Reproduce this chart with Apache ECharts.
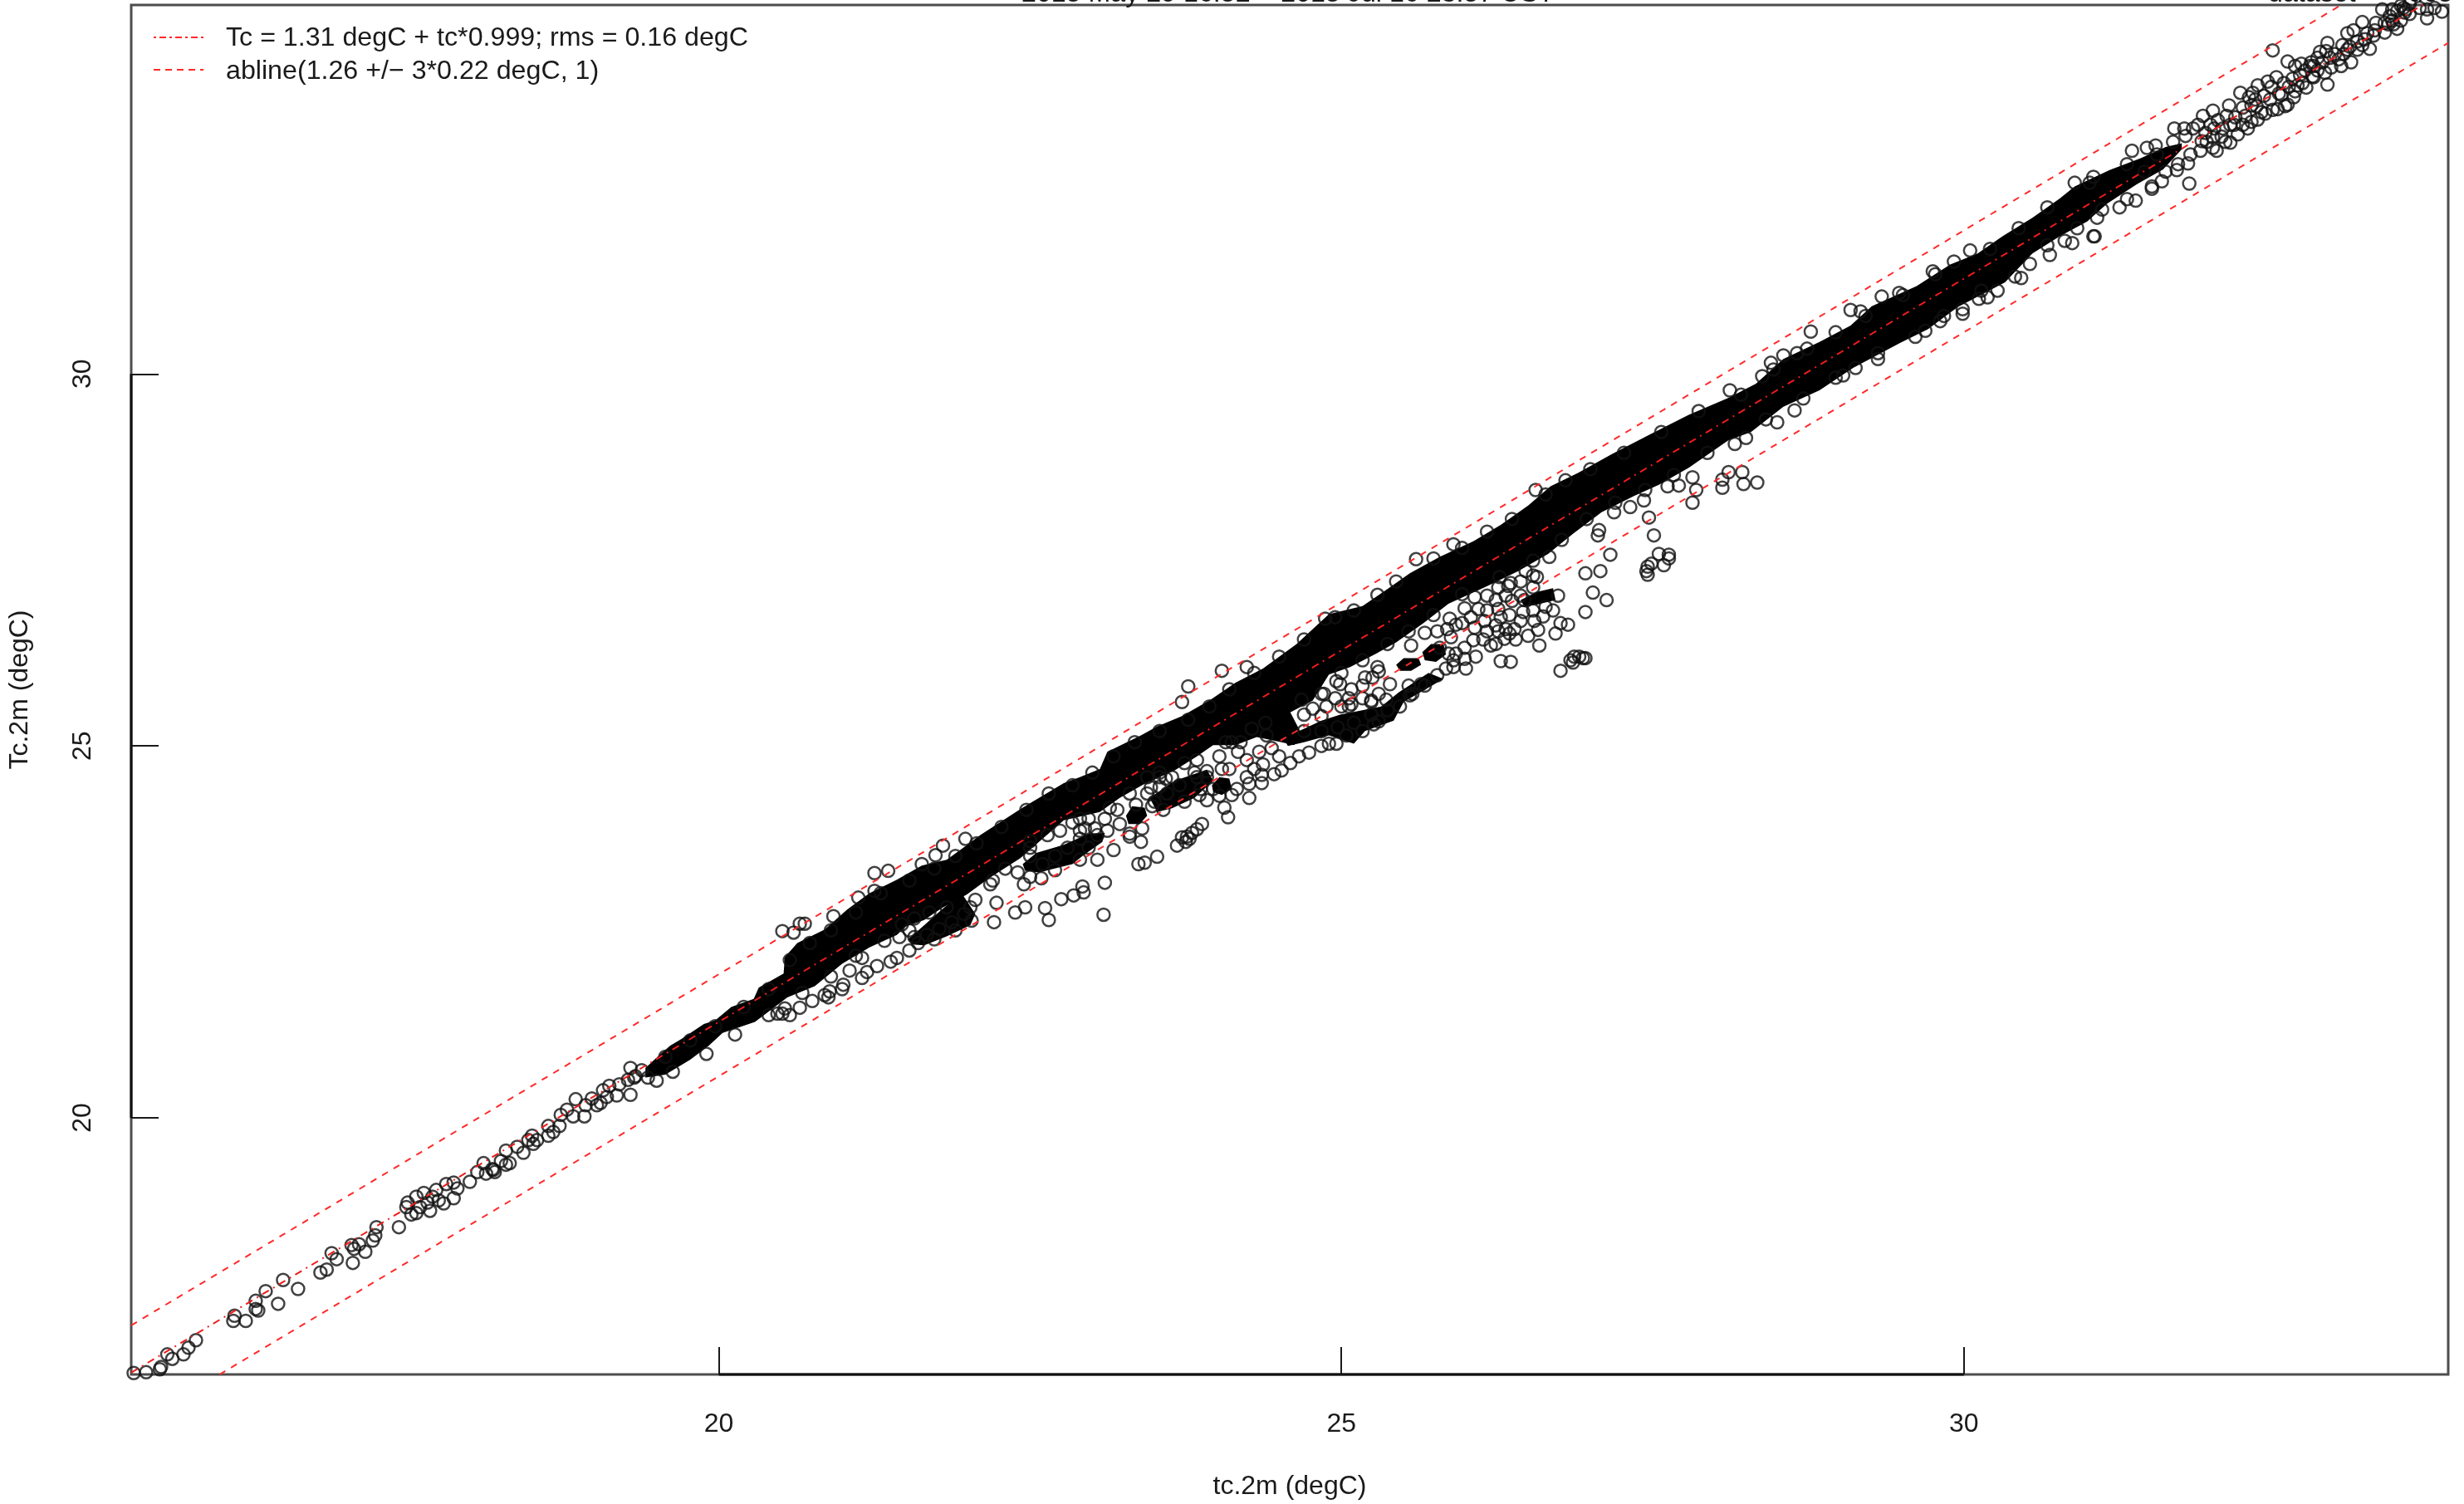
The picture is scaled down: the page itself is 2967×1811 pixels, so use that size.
<!DOCTYPE html>
<html><head><meta charset="utf-8">
<style>html,body{margin:0;padding:0;background:#fff}#c{width:2967px;height:1811px}</style>
<script src="https://cdn.jsdelivr.net/npm/echarts@6/dist/echarts.min.js"></script>
</head><body><div id="c"></div>
<script>
const xRange=[15.28,33.89], yRange=[16.55,34.96];
const xTicks=[20,25,30], yTicks=[20,25,30];
const xName='tc.2m (degC)', yName='Tc.2m (degC)';
const legendLabels=['Tc = 1.31 degC + tc*0.999; rms = 0.16 degC','abline(1.26 +/\u2212 3*0.22 degC, 1)'];
const titleCentre='2015 May 29 16:52 \u2212 2015 Jul 16 23:57 UST', titleRight='dataset', titleRight2='d05';
// regression: Tc = a + b*tc ; ablines: a +/- 3*sd with slope 1 (upper/lower as seen on the plot)
const fitA=1.31, fitB=0.999, ablineUpperA=1.93, ablineLowerA=0.56;

// saturated (fully overplotted) body of the cloud, outline
const coreUpper=[[19.41,20.67],[19.52,20.84],[19.61,20.97],[19.70,21.06],[19.88,21.26],[19.97,21.31],[20.10,21.49],[20.28,21.60],[20.32,21.75],[20.52,21.94],[20.53,22.16],[20.63,22.35],[20.85,22.53],[21.03,22.80],[21.21,23.02],[21.43,23.20],[21.63,23.39],[21.83,23.47],[21.97,23.64],[22.10,23.80],[22.44,24.17],[22.77,24.50],[22.90,24.58],[23.06,24.69],[23.12,24.92],[23.39,25.14],[23.52,25.26],[23.72,25.40],[23.95,25.62],[24.15,25.85],[24.37,26.04],[24.64,26.37],[24.90,26.77],[25.17,26.88],[25.37,27.11],[25.55,27.32],[25.79,27.54],[26.06,27.75],[26.28,27.97],[26.50,28.23],[26.68,28.49],[26.90,28.67],[27.17,28.92],[27.47,29.18],[27.79,29.45],[28.11,29.68],[28.33,29.87],[28.55,30.20],[28.84,30.43],[29.09,30.65],[29.26,30.91],[29.62,31.18],[29.89,31.47],[30.11,31.62],[30.31,31.85],[30.55,32.10],[30.77,32.36],[30.89,32.52],[31.17,32.74],[31.42,32.90],[31.62,33.05],[31.75,33.10]];
const coreLower=[[19.41,20.54],[19.57,20.58],[19.77,20.78],[19.92,20.97],[20.03,21.14],[20.29,21.29],[20.55,21.62],[20.77,21.77],[20.99,22.07],[21.21,22.29],[21.43,22.46],[21.50,22.57],[21.65,22.66],[21.79,22.82],[21.99,23.00],[22.17,23.22],[22.42,23.49],[22.77,24.00],[23.06,24.11],[23.22,24.30],[23.42,24.49],[23.66,24.67],[23.84,24.86],[23.97,25.01],[24.15,25.01],[24.32,25.12],[24.52,25.05],[24.62,25.01],[24.68,25.16],[24.59,25.45],[24.77,25.61],[24.90,25.96],[25.07,26.06],[25.28,26.24],[25.44,26.39],[25.66,26.65],[25.86,26.91],[26.15,27.13],[26.42,27.35],[26.66,27.58],[26.86,27.85],[27.09,28.14],[27.35,28.36],[27.55,28.51],[27.79,28.74],[28.11,29.11],[28.29,29.22],[28.55,29.56],[28.84,29.78],[29.11,30.08],[29.49,30.42],[29.71,30.60],[29.95,30.90],[30.33,31.23],[30.55,31.62],[30.77,31.85],[30.99,32.05],[31.15,32.29],[31.39,32.55],[31.60,32.75],[31.75,33.02]];
// smaller saturated lobes below the body
const lobeA=[[21.52,22.40],[21.65,22.59],[21.79,22.80],[21.95,23.02],[22.06,22.74],[22.02,22.59],[21.83,22.44],[21.65,22.32],[21.55,22.33]];
const lobeB=[[22.44,23.41],[22.55,23.56],[22.77,23.67],[22.97,23.82],[23.10,23.83],[23.08,23.71],[22.92,23.52],[22.84,23.41],[22.57,23.30],[22.46,23.32]];
const lobeC=[[23.27,24.06],[23.32,24.19],[23.42,24.17],[23.44,24.06],[23.38,23.95],[23.29,23.95]];
const lobeD=[[23.46,24.30],[23.66,24.53],[23.92,24.68],[23.97,24.53],[23.82,24.30],[23.64,24.16],[23.52,24.11]];
const lobeE=[[23.96,24.47],[24.02,24.58],[24.10,24.56],[24.12,24.42],[24.04,24.34],[23.97,24.38]];
const lobeF=[[24.54,25.09],[24.66,25.20],[24.84,25.34],[24.99,25.42],[25.32,25.53],[25.46,25.72],[25.70,25.98],[25.82,25.90],[25.50,25.59],[25.42,25.34],[25.19,25.20],[25.10,25.03],[24.90,25.14],[24.70,25.05],[24.57,25.00]];
const lobeG=[[25.44,26.09],[25.50,26.18],[25.62,26.18],[25.64,26.09],[25.56,26.01],[25.47,26.01]];
const lobeH=[[25.65,26.26],[25.72,26.37],[25.82,26.37],[25.84,26.23],[25.76,26.13],[25.67,26.15]];
const lobeI=[[26.44,26.96],[26.57,27.07],[26.70,27.12],[26.72,26.96],[26.57,26.90],[26.47,26.87]];

// individually visible circles
const coldEnd=[[15.30,16.57],[15.40,16.58],[15.51,16.62],[15.52,16.65],[15.57,16.82],[15.61,16.76],[15.70,16.82],[15.74,16.91],[15.80,17.01],[16.10,17.27],[16.11,17.34],[16.20,17.27],[16.28,17.43],[16.28,17.54],[16.30,17.41],[16.36,17.67],[16.46,17.50],[16.50,17.82],[16.62,17.70],[16.80,17.92],[16.85,17.96],[16.89,18.18],[16.93,18.10],[17.06,18.05],[17.05,18.29],[17.07,18.24],[17.11,18.30],[17.16,18.20],[17.22,18.35],[17.24,18.42],[17.25,18.53],[17.43,18.53],[17.49,18.80],[17.53,18.70],[17.57,18.94],[17.60,18.80],[17.66,18.86],[17.70,18.94],[17.68,18.75],[17.75,18.89],[17.79,18.85],[17.81,19.11],[17.87,18.92],[17.87,19.13],[18.00,19.14],[18.06,19.27],[18.19,19.30],[18.29,19.37],[17.50,18.86],[17.63,18.99],[17.73,19.03],[17.57,18.72],[17.90,19.05],[18.13,19.25],[18.11,19.39],[18.18,19.31],[18.20,19.27],[18.25,19.42],[18.29,19.56],[18.32,19.39],[18.38,19.61],[18.43,19.53],[18.50,19.76],[18.51,19.65],[18.47,19.70],[18.54,19.70],[18.63,19.89],[18.63,19.76],[18.67,19.81],[18.72,19.89],[18.73,20.04],[18.78,20.11],[18.83,20.02],[18.85,20.25],[18.92,20.02],[18.93,20.17],[18.98,20.26],[19.02,20.17],[19.05,20.20],[19.07,20.37],[19.12,20.43],[19.10,20.28],[19.18,20.30],[19.20,20.45],[19.27,20.51],[19.33,20.56],[19.29,20.31],[19.29,20.67],[19.32,20.54],[19.43,20.54],[19.38,20.64]];
const midUpper=[[20.51,22.51],[20.60,22.49],[20.65,22.61],[20.69,22.61],[20.92,22.71],[21.25,23.29],[21.36,23.32],[21.74,23.53],[21.80,23.66],[21.98,23.75],[21.25,23.05],[21.12,22.96],[21.63,23.41],[23.72,25.59],[23.77,25.80],[24.04,26.01],[24.24,26.06],[24.95,26.73],[25.29,27.03],[25.60,27.51],[25.90,27.71],[26.56,28.44]];
const midLower=[[20.47,21.40],[20.51,21.40],[20.57,21.38],[20.53,21.47],[20.65,21.48],[20.75,21.57],[20.85,21.65],[20.88,21.62],[20.89,21.70],[20.99,21.73],[21.00,21.79],[21.05,21.98],[21.15,21.88],[21.19,21.96],[21.27,22.04],[21.38,22.10],[21.43,22.15],[21.53,22.25],[21.15,22.15],[21.45,22.43],[22.06,22.93],[22.18,23.14],[22.23,22.89],[22.21,22.63],[22.38,22.76],[22.46,22.83],[22.62,22.82],[22.65,22.66],[22.45,23.14],[22.59,23.22],[22.70,23.33],[22.75,22.94],[22.85,22.99],[22.92,23.11],[22.93,23.03],[23.10,23.16],[23.09,22.73],[23.04,23.47],[23.17,23.60],[23.37,23.41],[23.42,23.43],[23.52,23.51],[23.39,23.71],[23.30,23.78]];
const meshA=[[24.02,24.86],[23.84,24.81],[23.82,24.64],[23.92,24.66],[23.92,24.58],[23.02,23.89],[22.94,23.89],[23.12,23.86],[23.22,23.95],[23.40,23.89],[23.30,23.82],[23.68,23.66],[23.72,23.77],[23.76,23.78],[23.80,23.83],[23.84,23.88],[23.88,23.95],[23.75,23.71],[23.78,23.75],[24.09,24.04],[24.06,24.17],[24.26,24.30],[24.12,24.34],[24.02,24.33],[23.92,24.27],[23.86,24.34],[23.97,24.42],[24.16,24.42],[24.26,24.49],[24.36,24.50],[24.36,24.61],[24.46,24.62],[24.52,24.67],[24.59,24.77],[24.66,24.86],[24.74,24.91],[24.84,25.00],[24.96,25.03],[23.35,24.21],[23.48,24.19],[23.44,24.36],[23.54,24.45],[23.59,24.56],[24.12,25.05],[24.19,25.05],[24.28,25.23],[24.39,25.31],[25.24,25.61],[25.36,25.62],[25.08,25.56],[25.39,25.83],[25.25,25.92],[25.30,26.00],[24.99,25.83],[25.08,25.76],[25.17,25.81],[24.88,25.53],[24.77,25.50],[25.26,25.29],[24.96,25.87],[24.68,25.62],[24.86,25.70],[25.06,25.64],[25.24,25.59],[25.29,26.06],[25.06,25.53],[24.95,25.64],[25.64,25.83],[25.55,25.68],[25.19,25.92]];
const meshB=[[27.43,28.30],[27.32,28.21],[27.19,28.14],[27.47,28.07],[27.51,27.83],[27.07,27.90],[27.06,27.83],[27.16,27.57],[26.67,27.54],[27.55,27.58],[27.63,27.57],[27.59,27.43],[27.63,27.52],[27.46,27.41],[27.46,27.30],[27.49,27.45],[27.45,27.35],[26.96,27.32],[27.08,27.35],[27.02,27.06],[27.13,26.96],[26.96,26.80],[26.74,27.02],[26.54,27.29],[26.54,27.13],[26.48,27.35],[26.36,27.19],[26.70,26.82],[26.76,26.65],[26.82,26.63],[26.58,26.56],[26.72,26.51],[26.59,26.35],[26.55,26.68],[26.62,26.74],[26.31,26.44],[26.20,26.35],[26.06,26.42],[26.08,26.20],[26.28,26.14],[26.36,26.13],[26.76,26.01],[26.84,26.15],[26.87,26.20],[26.94,26.18],[26.96,26.18],[26.91,26.20],[26.86,26.12],[26.24,26.62],[26.32,26.57],[26.39,26.57],[26.28,26.73],[26.35,26.76],[26.44,26.68],[26.46,26.80],[26.26,26.84],[26.37,26.95],[26.44,27.02],[26.32,27.02],[26.26,27.13],[26.17,27.02],[25.99,26.85],[26.10,26.84],[26.04,26.73],[26.15,26.68],[26.26,26.54],[26.35,26.51],[25.85,26.57],[25.92,26.63],[25.67,26.52],[25.56,26.35],[25.88,26.46],[25.99,26.32],[25.99,26.17],[25.90,26.06],[25.86,26.24],[25.79,26.32],[25.92,26.24],[27.71,28.50],[27.62,28.49],[27.82,28.61],[27.85,28.44],[27.82,28.27],[28.06,28.47],[28.06,28.58],[28.11,28.68],[28.22,28.68],[28.23,28.52],[28.34,28.54]];
const meshC=[[21.57,22.43],[21.67,22.46],[21.77,22.54],[21.87,22.63],[21.97,22.74],[22.02,22.83],[21.60,22.35],[21.73,22.40],[21.90,22.52],[22.03,22.65],[21.47,22.60],[21.57,22.68],[21.69,22.76],[21.83,22.83],[21.53,22.52],[22.50,23.52],[22.60,23.41],[22.70,23.52],[22.80,23.63],[22.90,23.75],[23.04,23.80],[22.97,23.63],[22.40,23.30],[22.50,23.24],[22.90,23.47],[22.50,23.72],[22.84,23.97],[22.97,24.02],[23.10,24.02],[22.74,23.86],[23.20,24.14],[22.90,23.86],[23.50,24.25],[23.60,24.36],[23.70,24.47],[23.84,24.58],[23.57,24.14],[23.74,24.25],[23.87,24.42],[23.54,24.64],[23.64,24.58],[23.44,24.58],[23.47,24.44]];
const meshD=[[24.24,24.81],[24.34,24.92],[24.44,24.97],[24.37,24.75],[24.24,24.58],[24.10,24.69],[24.50,24.86],[24.04,24.69],[24.17,24.92],[24.30,24.69],[24.70,25.20],[24.84,25.20],[24.97,25.25],[25.10,25.31],[25.24,25.42],[25.37,25.48],[25.04,25.14],[25.17,25.20],[24.90,25.03],[25.30,25.33],[25.47,25.53],[25.57,25.70],[25.67,25.81],[25.77,25.95],[25.54,25.81],[25.30,25.70],[25.17,25.64],[25.00,25.53],[24.84,25.40],[25.84,26.04],[25.90,26.15],[26.00,26.04],[25.77,26.54],[25.87,26.71],[25.97,26.65],[26.07,26.59],[26.17,26.54],[26.17,26.82],[26.07,27.00],[26.24,26.96],[26.34,27.15],[26.44,27.21],[26.57,27.27],[26.24,26.37],[26.14,26.43],[26.40,26.43],[26.50,26.48],[26.47,26.96],[26.54,26.82],[26.64,26.87]];
const warmSide=[[28.77,30.57],[29.09,30.86],[29.17,30.84],[29.34,31.04],[29.48,31.09],[29.75,31.38],[29.92,31.51],[30.05,31.66],[28.45,30.15],[28.55,30.25],[28.38,29.97],[28.12,29.78],[28.66,30.28],[28.64,29.51],[28.50,29.35],[28.16,29.06],[28.25,29.14],[29.31,30.20],[29.13,30.08],[29.03,29.98],[29.81,30.71],[29.99,30.81],[29.99,30.87],[29.69,30.58],[30.19,31.03],[30.27,31.12],[30.12,31.01],[30.46,31.29],[30.41,31.31],[30.69,31.60],[30.53,31.48],[30.87,31.76],[30.81,31.79],[31.05,31.85]];
const hotEnd=[[32.48,34.35],[32.60,34.20],[32.92,33.89],[31.81,32.56],[31.35,33.00],[32.14,33.11],[32.22,33.78],[32.60,33.62],[32.52,33.56],[32.39,33.52],[30.89,32.57],[31.04,32.65],[31.38,32.33],[31.59,32.59],[31.51,32.49],[31.25,32.24],[31.07,32.10],[31.04,31.85],[32.00,33.04],[31.80,32.83],[31.47,33.04],[32.13,33.61],[32.00,33.54],[31.69,33.30],[31.92,33.47],[32.31,33.39],[33.11,34.19],[33.03,34.14],[32.92,34.45],[33.04,34.42],[33.16,34.36],[33.26,34.37],[33.08,34.58],[33.13,34.62],[33.20,34.73],[33.31,34.72],[33.38,34.59],[33.48,34.64],[33.36,34.90],[33.51,34.95],[33.72,34.78],[33.84,34.87],[33.72,34.90],[33.66,34.92],[33.78,34.92],[33.58,34.84],[33.42,34.81],[33.48,34.88],[33.53,34.92],[33.44,34.75],[33.29,34.55],[33.22,34.50],[33.16,34.47],[32.66,33.80],[32.66,34.14],[32.71,34.17],[32.81,33.99],[32.79,34.19],[32.86,34.33],[32.53,33.77],[32.51,33.99],[32.44,33.93],[32.36,33.88],[32.29,33.72],[32.31,33.61],[32.46,33.69],[31.98,33.35],[32.04,33.41],[32.11,33.47],[32.17,33.35],[32.24,33.58],[32.34,33.69],[32.41,33.74],[32.47,33.86],[32.57,33.91],[32.64,33.97],[32.70,34.02],[32.74,34.08],[32.72,33.91],[32.78,34.14],[32.84,34.08],[32.88,34.19],[32.94,34.25],[32.98,34.30],[33.01,34.23],[32.91,34.34],[33.08,34.36],[32.84,34.25],[32.81,34.14],[32.61,33.86],[31.84,33.30],[31.91,33.13],[31.94,33.24],[32.01,33.30],[32.07,33.19],[32.14,33.35],[32.24,33.35],[32.32,33.78],[33.41,34.70],[33.51,34.75],[33.54,34.86],[33.38,34.72],[33.24,34.58],[33.44,34.90],[33.58,34.97]];
const hotCentre=[[31.45,32.72],[31.55,32.95],[31.62,32.72],[31.68,33.12],[31.72,32.82],[31.78,33.20],[31.82,32.95],[31.88,33.35],[31.90,33.00],[31.95,33.12],[32.00,33.18],[32.03,33.00],[32.08,33.30],[32.10,33.12],[32.18,33.45],[32.20,33.22],[32.26,33.47],[32.28,33.30],[32.35,33.60],[32.36,33.42],[32.42,33.50],[32.48,33.55],[32.55,33.75],[32.58,33.60],[32.65,33.72],[32.68,33.88],[32.75,33.85],[32.80,34.00],[32.90,34.05],[32.95,34.12],[33.05,34.30],[33.10,34.40],[33.20,34.42],[33.30,34.62],[33.45,34.70],[33.55,34.90]];
const upperEdge=[[19.57,20.82],[19.77,21.04],[19.97,21.23],[20.20,21.49],[20.40,21.73],[20.57,22.12],[20.73,22.35],[20.90,22.52],[21.10,22.76],[21.30,23.02],[21.53,23.19],[21.73,23.35],[21.90,23.52],[22.07,23.69],[22.27,23.91],[22.47,24.14],[22.65,24.36],[22.84,24.47],[23.00,24.64],[23.17,24.86],[23.34,25.05],[23.54,25.20],[23.77,25.35],[23.94,25.53],[24.10,25.76],[24.30,25.98],[24.50,26.20],[24.70,26.43],[24.87,26.71],[25.10,26.82],[25.44,27.21],[25.74,27.52],[25.97,27.66],[26.17,27.88],[26.37,28.05],[26.64,28.38],[26.80,28.57],[27.00,28.72],[27.27,28.94],[27.57,29.22],[27.87,29.50],[28.21,29.72],[28.47,30.06],[28.74,30.34],[28.97,30.56],[29.21,30.78],[29.51,31.06],[29.77,31.34],[30.21,31.68],[30.44,31.96],[30.67,32.24],[31.01,32.57],[31.31,32.82],[31.54,33.07],[31.77,33.30]];
const lowerEdge=[[19.63,20.62],[19.50,20.50],[19.90,20.86],[20.13,21.12],[20.40,21.38],[20.67,21.68],[20.90,21.90],[21.10,22.18],[21.33,22.38],[22.20,23.19],[22.30,23.35],[22.50,23.63],[22.64,23.80],[22.90,24.02],[23.14,24.17],[23.30,24.36],[23.54,24.58],[23.74,24.77],[24.07,25.05],[24.40,25.14],[24.70,25.42],[24.84,25.70],[25.00,25.98],[25.17,26.15],[25.37,26.37],[25.54,26.54],[25.74,26.76],[25.97,27.04],[26.27,27.27],[26.54,27.49],[26.77,27.77],[26.97,28.05],[27.20,28.27],[27.44,28.44],[27.67,28.64],[27.94,28.94],[28.41,29.39],[28.71,29.67],[28.97,29.95],[29.31,30.28],[29.61,30.50],[29.84,30.78],[30.14,31.12],[30.67,31.73],[30.91,31.96],[31.11,32.21],[31.31,32.35],[31.51,32.52],[31.71,32.74]];

const font='"Liberation Sans"', ink='#1a1a1a', red='#ff2a2a';
const polygons=[coreUpper.concat(coreLower.slice().reverse()),lobeA,lobeB,lobeC,lobeD,lobeE,lobeF,lobeG,lobeH,lobeI];
const points=[].concat(coldEnd,midUpper,midLower,meshA,meshB,meshC,meshD,warmSide,hotEnd,hotCentre,upperEdge,lowerEdge);
const fitLine=xRange.map(x=>[x,fitA+fitB*x]);
function abline(a){return [[Math.max(xRange[0],yRange[0]-a),Math.max(xRange[0]+a,yRange[0])],[Math.min(xRange[1],yRange[1]-a),Math.min(xRange[1]+a,yRange[1])]];}
const txt=(x,y,text,va)=>({type:'text',x:x,y:y,silent:true,style:{text:text,fill:ink,font:'32.2px '+font,verticalAlign:va||'middle'}});
const legLine=(y,dash)=>({type:'line',silent:true,shape:{x1:185,y1:y,x2:245,y2:y},style:{stroke:red,lineWidth:2,lineDash:dash}});

const chart=echarts.init(document.getElementById('c'),null,{renderer:'canvas'});
const axisCommon={splitLine:{show:false},axisLine:{show:false},
  axisTick:{show:true,inside:true,length:33,lineStyle:{color:ink,width:2}}};
chart.setOption({
  animation:false,backgroundColor:'#fff',
  grid:{left:158,right:19,top:6,bottom:156,show:true,borderColor:'#4d4d4d',borderWidth:3,backgroundColor:'transparent'},
  xAxis:Object.assign({},axisCommon,{type:'value',min:xRange[0],max:xRange[1],name:xName,nameLocation:'middle',nameGap:119,
    nameTextStyle:{fontFamily:font,fontSize:32,color:ink},
    axisTick:Object.assign({},axisCommon.axisTick,{customValues:xTicks}),
    axisLabel:{customValues:xTicks,margin:44,fontFamily:font,fontSize:32,color:ink,formatter:v=>String(v)}}),
  yAxis:Object.assign({},axisCommon,{type:'value',min:yRange[0],max:yRange[1],name:yName,nameLocation:'middle',nameGap:118,
    nameTextStyle:{fontFamily:font,fontSize:32,color:ink},
    axisTick:Object.assign({},axisCommon.axisTick,{customValues:yTicks}),
    axisLabel:{customValues:yTicks,margin:42,rotate:90,fontFamily:font,fontSize:32,color:ink,formatter:v=>String(v)}}),
  series:[
    {type:'custom',silent:true,clip:false,z:2,data:polygons.map((_,i)=>[i]),
     renderItem:(params,api)=>({type:'polygon',shape:{points:polygons[params.dataIndex].map(p=>api.coord(p))},style:{fill:'#000'}})},
    {type:'scatter',silent:true,z:3,clip:false,data:points,symbol:'circle',symbolSize:15,
     itemStyle:{color:'transparent',borderColor:'#111',borderWidth:2.5}},
    {type:'line',silent:true,z:5,data:fitLine,showSymbol:false,symbol:'none',lineStyle:{color:'#ee1c1c',width:2,type:[9,6,2,6]}},
    {type:'line',silent:true,z:5,data:abline(ablineUpperA),showSymbol:false,symbol:'none',lineStyle:{color:red,width:2,type:[8,8]}},
    {type:'line',silent:true,z:5,data:abline(ablineLowerA),showSymbol:false,symbol:'none',lineStyle:{color:red,width:2,type:[8,8]}},
    {type:'line',silent:true,z:4,clip:false,data:[[xRange[0],yTicks[0]],[xRange[0],yTicks[2]]],showSymbol:false,symbol:'none',lineStyle:{color:'#111',width:3}},
    {type:'line',silent:true,z:4,clip:false,data:[[xTicks[0],yRange[0]],[xTicks[2],yRange[0]]],showSymbol:false,symbol:'none',lineStyle:{color:'#111',width:3}}
  ],
  graphic:[
    legLine(45,[3,4,8,4]),legLine(84,[8,6]),
    txt(272,46,legendLabels[0]),txt(272,86,legendLabels[1]),
    txt(1230,9,titleCentre,'bottom'),
    txt(2731,9,titleRight,'bottom'),
    txt(2900,9,titleRight2,'bottom')
  ]
});
</script></body></html>
